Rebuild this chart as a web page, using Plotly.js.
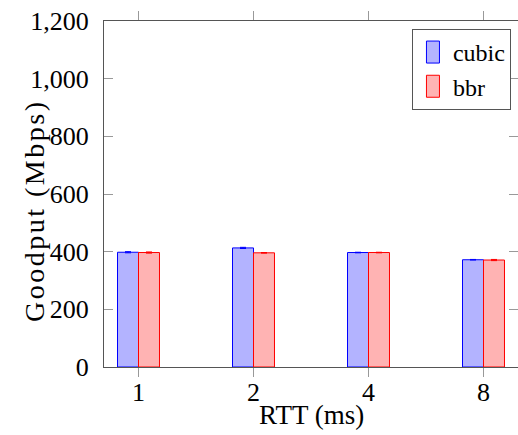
<!DOCTYPE html>
<html>
<head>
<meta charset="utf-8">
<script src="https://cdn.plot.ly/plotly-3.0.1.min.js"></script>
<style>
html,body{margin:0;padding:0;background:#fff;}
#chart{width:518px;height:435px;}
.ytitle-ann text{letter-spacing:2.5px;}
</style>
</head>
<body>
<div id="chart"></div>
<script>
const categories = ["1", "2", "4", "8"];
const cubicValues = [398, 413, 397, 372];
const bbrValues = [397, 396, 397, 371];
const cubicErr = [2, 2, 1, 1];
const bbrErr = [2, 1, 1, 2];
const yTickVals = [0, 200, 400, 600, 800, 1000, 1200];

const font = "Liberation Serif";

const traces = [
  {
    type: "bar", name: "cubic", x: categories, y: cubicValues,
    marker: {color: "rgb(179,179,255)", line: {color: "rgb(0,0,255)", width: 1}},
    error_y: {type: "data", array: cubicErr, visible: true, color: "rgb(0,0,255)", thickness: 1, width: 3}
  },
  {
    type: "bar", name: "bbr", x: categories, y: bbrValues,
    marker: {color: "rgb(255,179,179)", line: {color: "rgb(255,0,0)", width: 1}},
    error_y: {type: "data", array: bbrErr, visible: true, color: "rgb(255,0,0)", thickness: 1, width: 3}
  }
];

const layout = {
  width: 518, height: 435,
  margin: {l: 104, r: 0, t: 21, b: 68},
  paper_bgcolor: "#fff", plot_bgcolor: "#fff",
  font: {family: font, size: 26, color: "#000"},
  barmode: "group", bargap: 0.635, bargroupgap: 0,
  showlegend: true,
  legend: {
    x: 0.983, y: 0.977, xanchor: "right", yanchor: "top",
    bordercolor: "#555", borderwidth: 1, bgcolor: "#fff",
    font: {family: font, size: 24}, itemwidth: 30, tracegroupgap: 0
  },
  xaxis: {
    type: "category", range: [-0.3, 3.3],
    showgrid: false, zeroline: false,
    showline: true, linecolor: "#555", linewidth: 1, mirror: "ticks",
    ticks: "outside", ticklen: 9, tickcolor: "#999", tickwidth: 1,
    tickfont: {family: font, size: 26}, ticklabelstandoff: -7
  },
  yaxis: {
    range: [0, 1200], tickvals: yTickVals, tickformat: ",d",
    showgrid: false, zeroline: false,
    showline: true, linecolor: "#555", linewidth: 1, mirror: "ticks",
    ticks: "inside", ticklen: 9, tickcolor: "#999", tickwidth: 1,
    tickfont: {family: font, size: 26}, ticklabelstandoff: 9
  },
  annotations: [
    {
      text: "Goodput (Mbps)", xref: "paper", yref: "paper",
      x: -0.167, y: 0.452, xanchor: "center", yanchor: "middle",
      textangle: -90, showarrow: false, font: {family: font, size: 28}
    },
    {
      text: "RTT (ms)", xref: "paper", yref: "paper",
      x: 0.5, y: -0.139, xanchor: "center", yanchor: "middle",
      showarrow: false, font: {family: font, size: 27}
    }
  ]
};

Plotly.newPlot("chart", traces, layout, {displayModeBar: false, staticPlot: true}).then(function (gd) {
  const anns = gd.querySelectorAll(".annotation");
  if (anns.length) anns[0].classList.add("ytitle-ann");
  gd.querySelectorAll(".legend .legendpoints path").forEach(function (p) {
    p.setAttribute("d", "M6.5,11H-6.5V-11H6.5Z");
  });
});
</script>
</body>
</html>
